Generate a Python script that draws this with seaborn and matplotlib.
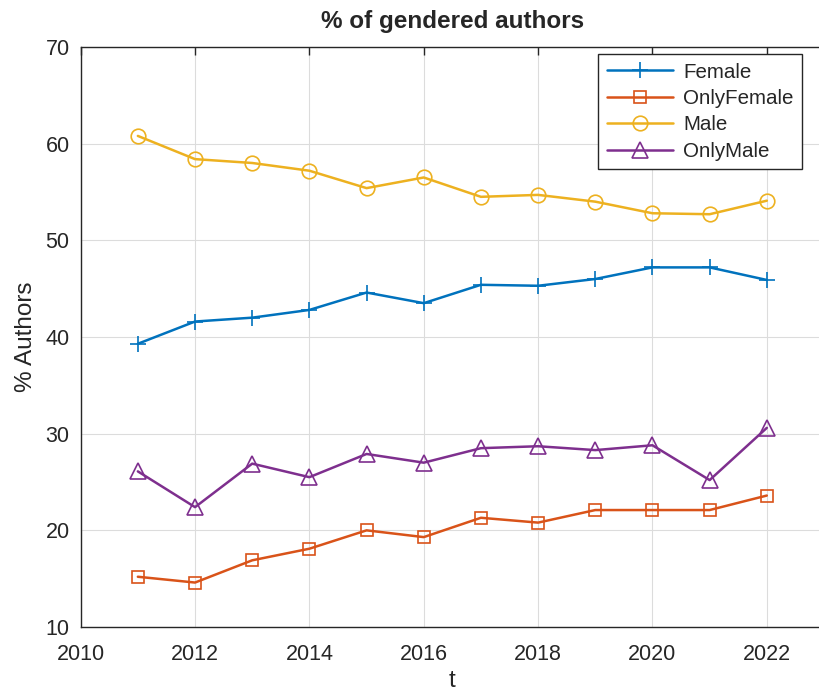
import pandas as pd
import matplotlib
matplotlib.use("Agg")
import matplotlib.pyplot as plt
import seaborn as sns

## data
years = [2011, 2012, 2013, 2014, 2015, 2016, 2017, 2018, 2019, 2020, 2021, 2022]
female = [39.3, 41.6, 42.0, 42.8, 44.6, 43.5, 45.4, 45.3, 46.0, 47.2, 47.2, 45.9]
only_female = [15.2, 14.6, 16.9, 18.1, 20.0, 19.3, 21.3, 20.8, 22.1, 22.1, 22.1, 23.6]
male = [60.8, 58.4, 58.0, 57.2, 55.4, 56.5, 54.5, 54.7, 54.0, 52.8, 52.7, 54.1]
only_male = [26.1, 22.4, 26.9, 25.5, 27.9, 27.0, 28.5, 28.7, 28.3, 28.8, 25.2, 30.6]

series = {"Female": female, "OnlyFemale": only_female, "Male": male, "OnlyMale": only_male}
colors = {"Female": "#0072BD", "OnlyFemale": "#D95319", "Male": "#EDB120", "OnlyMale": "#7E2F8E"}
markers = {"Female": "+", "OnlyFemale": "s", "Male": "o", "OnlyMale": "^"}
msizes = {"Female": 12, "OnlyFemale": 8.5, "Male": 10.5, "OnlyMale": 11.5}

sns.set_style("white")
plt.rcParams["font.family"] = ["Liberation Sans", "DejaVu Sans"]

fig = plt.figure(figsize=(8.19, 6.97), dpi=100)
# axes run a little past the right edge of the figure (cropped like the original)
ax = fig.add_axes([0.0985, 0.1004, 0.9076, 0.8322])

for name, vals in series.items():
    df = pd.DataFrame({"t": years, "pct": vals})
    c = colors[name]
    sns.lineplot(data=df, x="t", y="pct", ax=ax, color=c, marker=markers[name],
                 markersize=msizes[name], mfc="none", mec=c, mew=1.2,
                 linewidth=1.8, label=name)

ax.set_xlim(2010, 2023)
ax.set_ylim(10, 70)
ax.set_xticks(range(2010, 2023, 2))
ax.set_yticks(range(10, 71, 10))
ax.grid(True, color="#dcdcdc", linewidth=0.8)
ax.tick_params(direction="in", top=True, right=False, length=6, width=1,
               colors="#262626", labelsize=15.5)
ax.tick_params(axis="x", pad=12)
ax.tick_params(axis="y", pad=8)
for s in ax.spines.values():
    s.set_color("#262626")
    s.set_linewidth(1)

ax.set_title("% of gendered authors", fontsize=17.5, fontweight="bold", pad=14)
ax.set_xlabel("t", fontsize=17.5, color="#262626", labelpad=4)
ax.set_ylabel("% Authors", fontsize=17.5, color="#262626", labelpad=6)

leg = ax.legend(loc="upper right", bbox_to_anchor=(0.9704, 0.988), borderaxespad=0,
                fontsize=14.8, frameon=True, fancybox=False, edgecolor="#262626",
                framealpha=1, handlelength=3.2, borderpad=0.42, labelspacing=0.36,
                handletextpad=0.5)
leg.get_frame().set_linewidth(1)

plt.savefig("out.png", dpi=100)
